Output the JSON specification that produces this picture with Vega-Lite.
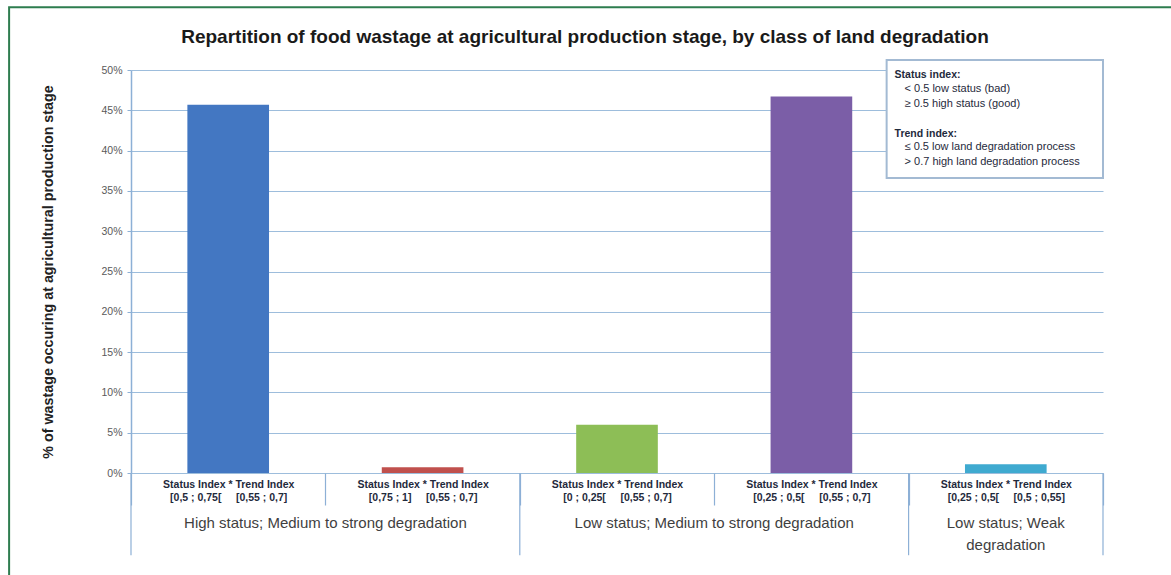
{
  "$schema": "https://vega.github.io/schema/vega-lite/v6.json",
  "width": 972,
  "height": 403,
  "autosize": "none",
  "padding": {"left": 131, "top": 70, "right": 68, "bottom": 102},
  "background": "white",
  "config": {"view": {"stroke": null}, "font": "Liberation Sans"},
  "title": {
    "text": "Repartition of food wastage at agricultural production stage, by class of land degradation",
    "fontSize": 19, "fontWeight": "bold", "font": "Liberation Sans", "color": "#1a1a1a",
    "anchor": "middle", "dx": -32, "baseline": "alphabetic", "offset": -56
  },
  "datasets": {
    "bars": [
      {"label": "Status Index * Trend Index|[0,5 ; 0,75[\u00a0\u00a0\u00a0\u00a0\u00a0[0,55 ; 0,7]", "group": "High status; Medium to strong degradation", "value": 45.7},
      {"label": "Status Index * Trend Index|[0,75 ; 1]\u00a0\u00a0\u00a0\u00a0\u00a0[0,55 ; 0,7]", "group": "High status; Medium to strong degradation", "value": 0.7},
      {"label": "Status Index * Trend Index|[0 ; 0,25[\u00a0\u00a0\u00a0\u00a0\u00a0[0,55 ; 0,7]", "group": "Low status; Medium to strong degradation", "value": 6.0},
      {"label": "Status Index * Trend Index|[0,25 ; 0,5[\u00a0\u00a0\u00a0\u00a0\u00a0[0,55 ; 0,7]", "group": "Low status; Medium to strong degradation", "value": 46.7},
      {"label": "Status Index * Trend Index|[0,25 ; 0,5[\u00a0\u00a0\u00a0\u00a0\u00a0[0,5 ; 0,55]", "group": "Low status; Weak\ndegradation", "value": 1.1}
    ],
    "groups": [
      {"group": "High status; Medium to strong degradation", "first": "Status Index * Trend Index|[0,5 ; 0,75[\u00a0\u00a0\u00a0\u00a0\u00a0[0,55 ; 0,7]", "last": "Status Index * Trend Index|[0,75 ; 1]\u00a0\u00a0\u00a0\u00a0\u00a0[0,55 ; 0,7]"},
      {"group": "Low status; Medium to strong degradation", "first": "Status Index * Trend Index|[0 ; 0,25[\u00a0\u00a0\u00a0\u00a0\u00a0[0,55 ; 0,7]", "last": "Status Index * Trend Index|[0,25 ; 0,5[\u00a0\u00a0\u00a0\u00a0\u00a0[0,55 ; 0,7]"},
      {"group": "Low status; Weak\ndegradation", "first": "Status Index * Trend Index|[0,25 ; 0,5[\u00a0\u00a0\u00a0\u00a0\u00a0[0,5 ; 0,55]", "last": "Status Index * Trend Index|[0,25 ; 0,5[\u00a0\u00a0\u00a0\u00a0\u00a0[0,5 ; 0,55]"}
    ],
    "legendText": [
      {"heading": "Status index:", "items": "< 0.5 low status (bad)\n≥ 0.5 high status (good)"},
      {"heading": "Trend index:", "items": "≤ 0.5 low land degradation process\n> 0.7 high land degradation process"}
    ]
  },
  "layer": [
    {
      "data": {"name": "bars"},
      "mark": {"type": "bar", "width": {"band": 0.42}},
      "encoding": {
        "x": {
          "field": "label", "type": "nominal", "sort": null,
          "scale": {
            "type": "band", "paddingInner": 0, "paddingOuter": 0,
            "domain": [
              "Status Index * Trend Index|[0,5 ; 0,75[\u00a0\u00a0\u00a0\u00a0\u00a0[0,55 ; 0,7]",
              "Status Index * Trend Index|[0,75 ; 1]\u00a0\u00a0\u00a0\u00a0\u00a0[0,55 ; 0,7]",
              "Status Index * Trend Index|[0 ; 0,25[\u00a0\u00a0\u00a0\u00a0\u00a0[0,55 ; 0,7]",
              "Status Index * Trend Index|[0,25 ; 0,5[\u00a0\u00a0\u00a0\u00a0\u00a0[0,55 ; 0,7]",
              "Status Index * Trend Index|[0,25 ; 0,5[\u00a0\u00a0\u00a0\u00a0\u00a0[0,5 ; 0,55]"
            ]
          },
          "axis": {
            "title": null, "labelExpr": "split(datum.label, '|')", "labelAngle": 0,
            "labelFont": "Liberation Sans", "labelFontSize": 10.5, "labelFontWeight": "bold",
            "labelColor": "#1f2a3c", "labelLineHeight": 13, "labelBaseline": "top",
            "labelPadding": -26, "tickBand": "extent", "tickSize": 32, "tickColor": "#8DB0D6",
            "tickWidth": 1.2, "domain": false, "grid": false
          }
        },
        "y": {
          "field": "value", "type": "quantitative",
          "scale": {"domain": [0, 50], "nice": false, "zero": true},
          "axis": {
            "title": "% of  wastage occuring at agricultural production stage",
            "values": [0, 5, 10, 15, 20, 25, 30, 35, 40, 45, 50],
            "labelExpr": "datum.value + '%'",
            "grid": true, "gridColor": "#9DBDDC", "gridWidth": 1.2,
            "domainColor": "#8DB0D6", "domainWidth": 1.5,
            "tickColor": "#8DB0D6", "tickSize": 4,
            "labelFont": "Liberation Sans", "labelFontSize": 10.5, "labelColor": "#5a5a5a", "labelPadding": 5,
            "titleFont": "Liberation Sans", "titleFontSize": 14.3, "titleFontWeight": "bold", "titleColor": "#222222",
            "titlePadding": 45
          }
        },
        "color": {
          "field": "label", "type": "nominal", "legend": null, "sort": null,
          "scale": {
            "domain": [
              "Status Index * Trend Index|[0,5 ; 0,75[\u00a0\u00a0\u00a0\u00a0\u00a0[0,55 ; 0,7]",
              "Status Index * Trend Index|[0,75 ; 1]\u00a0\u00a0\u00a0\u00a0\u00a0[0,55 ; 0,7]",
              "Status Index * Trend Index|[0 ; 0,25[\u00a0\u00a0\u00a0\u00a0\u00a0[0,55 ; 0,7]",
              "Status Index * Trend Index|[0,25 ; 0,5[\u00a0\u00a0\u00a0\u00a0\u00a0[0,55 ; 0,7]",
              "Status Index * Trend Index|[0,25 ; 0,5[\u00a0\u00a0\u00a0\u00a0\u00a0[0,5 ; 0,55]"
            ],
            "range": ["#4377C2", "#C0504D", "#8DBE56", "#7B5EA7", "#3FAAD0"]
          }
        }
      }
    },
    {
      "data": {"name": "groups"},
      "mark": {"type": "rule", "color": "#8DB0D6", "strokeWidth": 1.2},
      "encoding": {
        "x": {"field": "first", "type": "nominal", "bandPosition": 0},
        "y": {"datum": 0, "type": "quantitative"},
        "y2": {"datum": -10.2}
      }
    },
    {
      "data": {"values": [{}]},
      "mark": {"type": "rule", "color": "#8DB0D6", "strokeWidth": 1.2},
      "encoding": {
        "x": {"datum": "Status Index * Trend Index|[0,25 ; 0,5[\u00a0\u00a0\u00a0\u00a0\u00a0[0,5 ; 0,55]", "type": "nominal", "bandPosition": 1},
        "y": {"datum": 0, "type": "quantitative"},
        "y2": {"datum": -10.2}
      }
    },
    {
      "data": {"name": "groups"},
      "transform": [{"filter": "datum.first != datum.last"}],
      "mark": {"type": "text", "font": "Liberation Sans", "fontSize": 15, "color": "#3f3f3f", "baseline": "top", "align": "center", "dy": 43, "lineBreak": "\n", "lineHeight": 22},
      "encoding": {
        "x": {"field": "first", "type": "nominal", "bandPosition": 1},
        "y": {"datum": 0, "type": "quantitative"},
        "text": {"field": "group"}
      }
    },
    {
      "data": {"name": "groups"},
      "transform": [{"filter": "datum.first == datum.last"}],
      "mark": {"type": "text", "font": "Liberation Sans", "fontSize": 15, "color": "#3f3f3f", "baseline": "top", "align": "center", "dy": 43, "lineBreak": "\n", "lineHeight": 22},
      "encoding": {
        "x": {"field": "first", "type": "nominal", "bandPosition": 0.5},
        "y": {"datum": 0, "type": "quantitative"},
        "text": {"field": "group"}
      }
    },
    {
      "data": {"values": [{}]},
      "mark": {"type": "rect", "fill": "white", "stroke": "#A3BAD3", "strokeWidth": 2},
      "encoding": {
        "x": {"datum": "Status Index * Trend Index|[0,25 ; 0,5[\u00a0\u00a0\u00a0\u00a0\u00a0[0,55 ; 0,7]", "type": "nominal", "bandPosition": 0.887},
        "x2": {"datum": "Status Index * Trend Index|[0,25 ; 0,5[\u00a0\u00a0\u00a0\u00a0\u00a0[0,5 ; 0,55]", "bandPosition": 1},
        "y": {"datum": 51.24, "type": "quantitative"},
        "y2": {"datum": 36.6}
      }
    },
    {
      "data": {"name": "legendText"},
      "transform": [{"filter": "datum.heading == 'Status index:'"}],
      "mark": {"type": "text", "font": "Liberation Sans", "fontSize": 10.5, "fontWeight": "bold", "color": "#1f2a3c", "align": "left", "baseline": "middle", "dx": -14},
      "encoding": {
        "x": {"datum": "Status Index * Trend Index|[0,25 ; 0,5[\u00a0\u00a0\u00a0\u00a0\u00a0[0,5 ; 0,55]", "type": "nominal", "bandPosition": 0},
        "y": {"datum": 49.38, "type": "quantitative"},
        "text": {"field": "heading"}
      }
    },
    {
      "data": {"name": "legendText"},
      "transform": [{"filter": "datum.heading == 'Status index:'"}],
      "mark": {"type": "text", "font": "Liberation Sans", "fontSize": 11, "color": "#1f2a3c", "align": "left", "baseline": "top", "dx": -4, "lineBreak": "\n", "lineHeight": 15},
      "encoding": {
        "x": {"datum": "Status Index * Trend Index|[0,25 ; 0,5[\u00a0\u00a0\u00a0\u00a0\u00a0[0,5 ; 0,55]", "type": "nominal", "bandPosition": 0},
        "y": {"datum": 48.39, "type": "quantitative"},
        "text": {"field": "items"}
      }
    },
    {
      "data": {"name": "legendText"},
      "transform": [{"filter": "datum.heading == 'Trend index:'"}],
      "mark": {"type": "text", "font": "Liberation Sans", "fontSize": 10.5, "fontWeight": "bold", "color": "#1f2a3c", "align": "left", "baseline": "middle", "dx": -14},
      "encoding": {
        "x": {"datum": "Status Index * Trend Index|[0,25 ; 0,5[\u00a0\u00a0\u00a0\u00a0\u00a0[0,5 ; 0,55]", "type": "nominal", "bandPosition": 0},
        "y": {"datum": 42.06, "type": "quantitative"},
        "text": {"field": "heading"}
      }
    },
    {
      "data": {"name": "legendText"},
      "transform": [{"filter": "datum.heading == 'Trend index:'"}],
      "mark": {"type": "text", "font": "Liberation Sans", "fontSize": 11, "color": "#1f2a3c", "align": "left", "baseline": "top", "dx": -4, "lineBreak": "\n", "lineHeight": 15},
      "encoding": {
        "x": {"datum": "Status Index * Trend Index|[0,25 ; 0,5[\u00a0\u00a0\u00a0\u00a0\u00a0[0,5 ; 0,55]", "type": "nominal", "bandPosition": 0},
        "y": {"datum": 41.19, "type": "quantitative"},
        "text": {"field": "items"}
      }
    },
    {
      "data": {"values": [{}]},
      "mark": {"type": "rect", "filled": false, "stroke": "#2E7D4F", "strokeWidth": 2},
      "encoding": {
        "x": {"datum": "Status Index * Trend Index|[0,5 ; 0,75[\u00a0\u00a0\u00a0\u00a0\u00a0[0,55 ; 0,7]", "type": "nominal", "bandPosition": -0.627},
        "x2": {"datum": "Status Index * Trend Index|[0,25 ; 0,5[\u00a0\u00a0\u00a0\u00a0\u00a0[0,5 ; 0,55]", "bandPosition": 1.6},
        "y": {"datum": 57.8, "type": "quantitative"},
        "y2": {"datum": -20}
      }
    }
  ]
}
